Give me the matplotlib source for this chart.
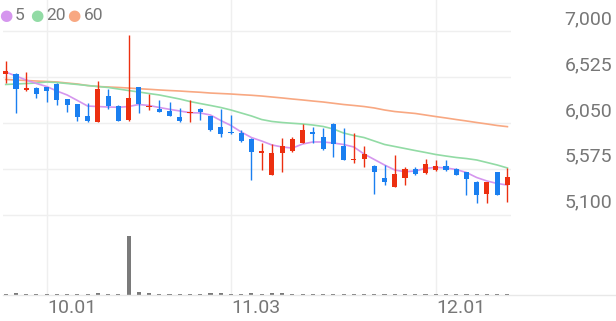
import matplotlib
matplotlib.use("Agg")
import matplotlib.pyplot as plt
from matplotlib.lines import Line2D
import numpy as np

plt.rcParams['font.family'] = ['Roboto', 'DejaVu Sans']

# daily candles (50 sessions)
opens = [6556, 6556, 6393, 6410, 6421, 6455, 6296, 6247, 6123, 6063,
         6333, 6226, 6081, 6421, 6213, 6192, 6175, 6109, 6151, 6195,
         6123, 6012, 5957, 5943, 5884, 5742, 5510, 5735, 5759, 5839,
         5953, 5901, 6040, 5814, 5666, 5673, 5607, 5476, 5382, 5476,
         5569, 5528, 5562, 5603, 5569, 5544, 5440, 5310, 5544, 5406]
highs = [6697, 6566, 6583, 6421, 6427, 6462, 6296, 6247, 6261, 6489,
         6400, 6237, 6964, 6421, 6351, 6289, 6271, 6203, 6289, 6203,
         6126, 6192, 6133, 5977, 5891, 5839, 5832, 5891, 5901, 6040,
         6012, 5995, 6047, 5995, 5949, 5811, 5614, 5614, 5718, 5596,
         5596, 5673, 5666, 5666, 5580, 5544, 5451, 5440, 5544, 5580]
lows = [6462, 6151, 6385, 6306, 6271, 6237, 6167, 6074, 6063, 6063,
        6192, 6074, 6074, 6157, 6185, 6167, 6123, 6063, 6063, 6081,
        5970, 5901, 5936, 5856, 5458, 5562, 5510, 5544, 5752, 5839,
        5839, 5770, 5700, 5666, 5638, 5596, 5310, 5406, 5382, 5406,
        5510, 5520, 5555, 5555, 5510, 5302, 5222, 5222, 5302, 5233]
closes = [6593, 6400, 6416, 6348, 6385, 6289, 6237, 6109, 6074, 6400,
          6226, 6074, 6306, 6247, 6226, 6167, 6123, 6074, 6164, 6167,
          5977, 5936, 5943, 5863, 5746, 5752, 5742, 5811, 5884, 5977,
          5936, 5777, 5832, 5666, 5676, 5725, 5544, 5440, 5520, 5569,
          5520, 5624, 5603, 5562, 5510, 5465, 5302, 5440, 5302, 5492]

ma5 = [6579, 6538, 6496, 6460, 6429, 6382, 6341, 6284, 6226, 6221,
       6216, 6213, 6221, 6242, 6232, 6211, 6192, 6175, 6157, 6154,
       6133, 6076, 6024, 5957, 5899, 5863, 5822, 5801, 5790, 5832,
       5853, 5853, 5842, 5827, 5801, 5728, 5671, 5614, 5562, 5544,
       5552, 5578, 5590, 5583, 5567, 5536, 5484, 5448, 5422, 5406]
ma20 = [6450, 6455, 6460, 6465, 6476, 6470, 6460, 6450, 6439, 6429,
        6419, 6403, 6387, 6372, 6356, 6341, 6320, 6299, 6273, 6252,
        6232, 6211, 6185, 6154, 6123, 6086, 6066, 6055, 6047, 6040,
        6029, 6014, 5988, 5946, 5920, 5899, 5863, 5827, 5806, 5785,
        5764, 5744, 5723, 5707, 5692, 5681, 5666, 5640, 5614, 5583]
ma60 = [6502, 6496, 6491, 6486, 6481, 6476, 6465, 6455, 6439, 6429,
        6424, 6419, 6413, 6406, 6400, 6393, 6387, 6382, 6375, 6369,
        6361, 6356, 6351, 6344, 6338, 6330, 6320, 6310, 6299, 6289,
        6278, 6268, 6255, 6242, 6232, 6221, 6206, 6185, 6169, 6159,
        6149, 6133, 6117, 6102, 6086, 6071, 6055, 6040, 6024, 6012]

volumes = [1.2, 2.0, 1.2, 1.2, 1.5, 1.5, 1.5, 1.5, 1.5, 2.5,
           1.2, 1.2, 100, 4.0, 2.0, 1.5, 1.5, 1.5, 1.5, 1.5,
           2.0, 2.8, 1.5, 1.2, 2.5, 1.2, 2.2, 2.2, 1.2, 1.2,
           1.2, 1.2, 1.2, 1.2, 1.5, 1.2, 1.2, 1.5, 1.2, 1.2,
           1.2, 1.2, 1.5, 1.5, 1.5, 1.5, 1.2, 1.2, 1.2, 1.2]

price_ticks = [5100, 5575, 6050, 6525, 7000]
price_labels = ['5,100', '5,575', '6,050', '6,525', '7,000']
date_pos = [4, 22, 42]
date_labels = ['10.01', '11.03', '12.01']

UP = '#ec2f10'
DOWN = '#1a7ff0'
GRID = '#efefef'
TXT = '#777777'

W, H = 616, 321
fig = plt.figure(figsize=(W / 100, H / 100), dpi=100)
ax = fig.add_axes([3 / W, 103 / H, 508 / W, 218 / H])
axv = fig.add_axes([3 / W, 26.5 / H, 508 / W, 76.5 / H])

n = len(closes)
x = np.arange(n)
xlim = (-0.264, 49.35)

# price panel
ax.set_xlim(*xlim)
ax.set_ylim(5063.7, 7327)
for t in price_ticks:
    ax.axhline(t, color=GRID, lw=1, zorder=0)
for d in date_pos:
    ax.axvline(d, color=GRID, lw=1, zorder=0)
    axv.axvline(d, color=GRID, lw=1, zorder=0)

ax.plot(x, ma60, color='#f8a882', lw=1.2, zorder=1)
ax.plot(x, ma20, color='#92dba5', lw=1.2, zorder=1)
ax.plot(x, ma5, color='#d596ee', lw=1.2, zorder=2)

o = np.array(opens)
c = np.array(closes)
cols = [UP if ci >= oi else DOWN for oi, ci in zip(o, c)]
ax.vlines(x, lows, highs, colors=cols, lw=1, zorder=3)
bottoms = np.minimum(o, c)
heights = np.maximum(np.abs(c - o), 14)
ax.bar(x, heights, bottom=bottoms, width=0.5, color=cols, linewidth=0, zorder=4)

for t, lab in zip(price_ticks, price_labels):
    ax.annotate(lab, xy=(609 / 508, t), xycoords=ax.get_yaxis_transform(),
                xytext=(0, 5), textcoords='offset points',
                ha='right', va='baseline', fontsize=14, color=TXT,
                annotation_clip=False)

# legend
legend_items = [('5', '#d596ee'), ('20', '#92dba5'), ('60', '#f8a882')]
lx = [5.5, 37, 74]
for (lab, col), px in zip(legend_items, lx):
    fig.text(px / W, 1 - 15.5 / H, '\u25CF', color=col, fontsize=11,
             ha='center', va='center')
    fig.text((px + 9.5) / W, 1 - 16 / H, lab, color=TXT, fontsize=12.5,
             ha='left', va='center')

for a in (ax, axv):
    a.set_xticks([])
    a.set_yticks([])
    for s in a.spines.values():
        s.set_visible(False)
    a.patch.set_alpha(0)

# volume panel
axv.set_xlim(*xlim)
axv.set_ylim(0, 130.8)
axv.bar(x, volumes, width=0.4, color='#7a7a7a', linewidth=0, zorder=2)
fig.add_artist(Line2D([3 / W, 1], [26.5 / H, 26.5 / H], color='#e8e8e8', lw=1))

for d, lab in zip(date_pos, date_labels):
    axv.annotate(lab, xy=(d, 0), xycoords=axv.get_xaxis_transform(),
                 xytext=(0.5, -13.5), textcoords='offset points',
                 ha='left', va='baseline', fontsize=14, color=TXT,
                 annotation_clip=False)

fig.savefig('out.png', dpi=100)
